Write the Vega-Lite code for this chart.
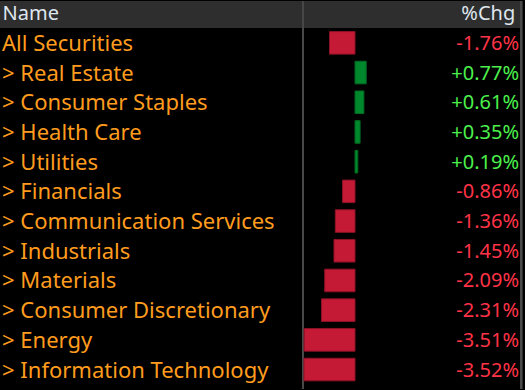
{
  "$schema": "https://vega.github.io/schema/vega-lite/v6.json",
  "width": 525,
  "height": 390,
  "autosize": {"type": "fit", "contains": "padding"},
  "padding": 0,
  "background": "#000000",
  "config": {"view": {"stroke": null}},
  "data": {
    "values": [
      {"name": "All Securities", "value": -1.76, "pct": "-1.76%"},
      {"name": "> Real Estate", "value": 0.77, "pct": "+0.77%"},
      {"name": "> Consumer Staples", "value": 0.61, "pct": "+0.61%"},
      {"name": "> Health Care", "value": 0.35, "pct": "+0.35%"},
      {"name": "> Utilities", "value": 0.19, "pct": "+0.19%"},
      {"name": "> Financials", "value": -0.86, "pct": "-0.86%"},
      {"name": "> Communication Services", "value": -1.36, "pct": "-1.36%"},
      {"name": "> Industrials", "value": -1.45, "pct": "-1.45%"},
      {"name": "> Materials", "value": -2.09, "pct": "-2.09%"},
      {"name": "> Consumer Discretionary", "value": -2.31, "pct": "-2.31%"},
      {"name": "> Energy", "value": -3.51, "pct": "-3.51%"},
      {"name": "> Information Technology", "value": -3.52, "pct": "-3.52%"}
    ]
  },
  "encoding": {
    "y": {
      "field": "name",
      "type": "nominal",
      "sort": null,
      "axis": null,
      "scale": {
        "domain": ["hdr", "All Securities", "> Real Estate", "> Consumer Staples", "> Health Care", "> Utilities", "> Financials", "> Communication Services", "> Industrials", "> Materials", "> Consumer Discretionary", "> Energy", "> Information Technology"],
        "range": [-2.7, 383.4],
        "paddingInner": 0,
        "paddingOuter": 0
      }
    }
  },
  "layer": [
    {
      "mark": {"type": "rule", "color": "#4a4a4a", "strokeWidth": 1.5},
      "encoding": {
        "y": null,
        "x": {"datum": -3.586, "type": "quantitative", "scale": {"domain": [-24.48, 11.72], "nice": false, "zero": false}, "axis": null}
      }
    },
    {
      "mark": {"type": "rule", "color": "#4a4a4a", "strokeWidth": 2},
      "encoding": {
        "y": null,
        "x": {"datum": 11.45, "type": "quantitative"}
      }
    },
    {
      "data": {"values": [{"a": -24.48, "b": -3.65}, {"a": -3.52, "b": 11.38}]},
      "mark": {"type": "rect", "color": "#2e2e2e", "clip": true},
      "encoding": {
        "y": {"datum": "hdr", "type": "nominal"},
        "x": {"field": "a", "type": "quantitative"},
        "x2": {"field": "b"}
      }
    },
    {
      "data": {"values": [{"t": "Name", "p": -24.3}]},
      "mark": {"type": "text", "color": "#dfe6ee", "fontSize": 20, "font": "Noto Sans", "align": "left", "baseline": "middle", "dy": 1},
      "encoding": {
        "y": {"datum": "hdr", "type": "nominal"},
        "x": {"field": "p", "type": "quantitative"},
        "text": {"field": "t"}
      }
    },
    {
      "data": {"values": [{"t": "%Chg", "p": 11.05}]},
      "mark": {"type": "text", "color": "#dfe6ee", "fontSize": 20, "font": "Noto Sans", "align": "right", "baseline": "middle", "dy": 1},
      "encoding": {
        "y": {"datum": "hdr", "type": "nominal"},
        "x": {"field": "p", "type": "quantitative"},
        "text": {"field": "t"}
      }
    },
    {
      "mark": {"type": "bar", "height": {"band": 0.76}, "strokeWidth": 1},
      "encoding": {
        "x": {"field": "value", "type": "quantitative"},
        "x2": {"datum": 0},
        "color": {
          "condition": {"test": "datum.value > 0", "value": "#00892c"},
          "value": "#c41a36"
        },
        "stroke": {
          "condition": {"test": "datum.value > 0", "value": "#006b22"},
          "value": "#8e1226"
        }
      }
    },
    {
      "mark": {"type": "text", "color": "#ff9c1e", "fontSize": 22, "font": "Noto Sans", "align": "left", "baseline": "middle", "dy": 1},
      "encoding": {
        "x": {"datum": -24.34, "type": "quantitative"},
        "text": {"field": "name"}
      }
    },
    {
      "mark": {"type": "text", "fontSize": 20, "font": "Noto Sans", "align": "right", "baseline": "middle", "dy": 1},
      "encoding": {
        "x": {"datum": 11.31, "type": "quantitative"},
        "text": {"field": "pct"},
        "color": {
          "condition": {"test": "datum.value > 0", "value": "#4cf04c"},
          "value": "#ff3347"
        }
      }
    }
  ]
}
